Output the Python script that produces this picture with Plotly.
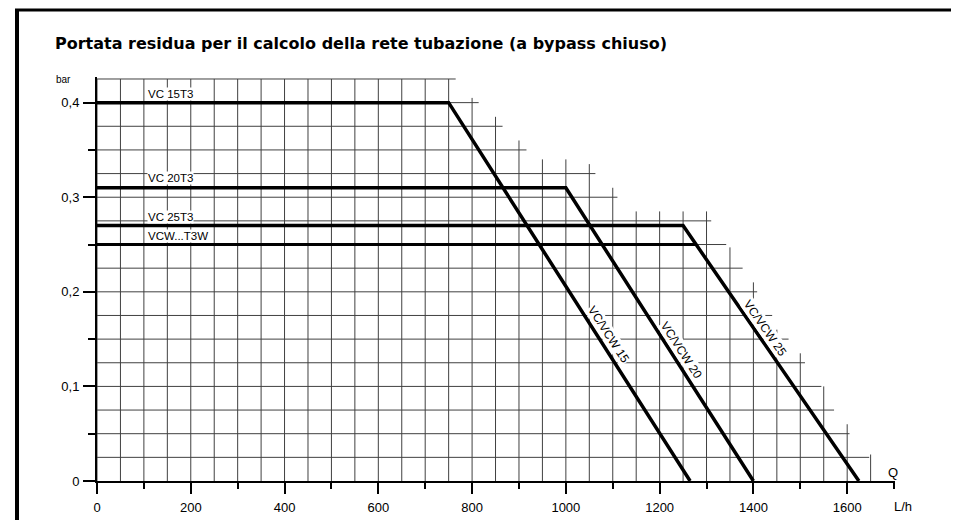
import plotly.graph_objects as go

# ---------------- data ----------------
# residual head curves: flow Q [L/h] vs pressure [bar]
vc15_q = [0, 750, 1265]
vc15_p = [0.40, 0.40, 0.0]
vc20_q = [0, 1000, 1400]
vc20_p = [0.31, 0.31, 0.0]
vc25_q = [0, 1250, 1625]
vc25_p = [0.27, 0.27, 0.0]
vcw_q = [0, 1278]
vcw_p = [0.25, 0.25]

x_tick_vals = [0, 200, 400, 600, 800, 1000, 1200, 1400, 1600]
x_tick_text = ["0", "200", "400", "600", "800", "1000", "1200", "1400", "1600"]
y_tick_vals = [0, 0.1, 0.2, 0.3, 0.4]
y_tick_text = ["0", "0,1", "0,2", "0,3", "0,4"]

# stepped background grid of the printed chart
grid_h_levels = [0.025, 0.05, 0.075, 0.1, 0.125, 0.15, 0.175, 0.2, 0.225,
                 0.25, 0.275, 0.3, 0.325, 0.35, 0.375, 0.4, 0.425]
grid_h_ends = [1647, 1605, 1572, 1545, 1510, 1475, 1440, 1408, 1377,
               1342, 1310, 1110, 1063, 916, 865, 814, 765]
grid_v_pos = [0, 50, 100, 150, 200, 250, 300, 350, 400, 450, 500, 550, 600,
              650, 700, 750, 800, 850, 900, 950, 1000, 1050, 1100, 1150, 1200,
              1250, 1300, 1350, 1400, 1450, 1500, 1550, 1600, 1650]
grid_v_tops = [0.425, 0.425, 0.425, 0.425, 0.425, 0.425, 0.425, 0.425,
               0.425, 0.425, 0.425, 0.425, 0.425, 0.425, 0.425, 0.425,
               0.405, 0.385, 0.36, 0.34, 0.34, 0.335, 0.31, 0.285, 0.285,
               0.285, 0.285, 0.247, 0.21, 0.16, 0.135, 0.1, 0.06, 0.028]

title_text = "Portata residua per il calcolo della rete tubazione (a bypass chiuso)"
FONT = "Liberation Sans, Arial, Helvetica, sans-serif"
TITLE_FONT = "DejaVu Sans, Liberation Sans, sans-serif"

# ---------------- layout geometry ----------------
# the page body has an 8px margin, so the figure is drawn 8px smaller and
# every page-pixel position below is shifted by that offset
OFF = 8
W, H = 959 - OFF, 520 - OFF
L, R, T, B = 97, 895, 77, 481       # plot area in page pixels
X_MAX = 1702
Y_MAX = 0.4271


def pxx(px):
    return (px - L) / (R - L)


def pxy(py):
    return (B - py) / (B - T)


fig = go.Figure()

# grid
gx, gy = [], []
for lev, end in zip(grid_h_levels, grid_h_ends):
    gx += [0, end, None]
    gy += [lev, lev, None]
for pos, top in zip(grid_v_pos, grid_v_tops):
    gx += [pos, pos, None]
    gy += [0, top, None]
fig.add_trace(go.Scatter(x=gx, y=gy, mode="lines",
                         line=dict(color="#404040", width=1),
                         hoverinfo="skip", showlegend=False))

for q, p, w in [(vcw_q, vcw_p, 3), (vc25_q, vc25_p, 3.5),
                (vc20_q, vc20_p, 3.5), (vc15_q, vc15_p, 3.5)]:
    fig.add_trace(go.Scatter(x=q, y=p, mode="lines",
                             line=dict(color="black", width=w),
                             hoverinfo="skip", showlegend=False))

ann = []
# title
ann.append(dict(text="<b>" + title_text + "</b>", xref="paper", yref="paper",
                x=pxx(53), y=pxy(44), xanchor="left", yanchor="middle",
                showarrow=False, font=dict(size=16, family=TITLE_FONT, color="black")))
ann.append(dict(text="bar", xref="paper", yref="paper", x=pxx(63), y=pxy(79),
                xanchor="center", yanchor="middle", showarrow=False,
                font=dict(size=10, family=FONT, color="black")))
ann.append(dict(text="Q", xref="paper", yref="paper", x=pxx(893), y=pxy(472),
                xanchor="center", yanchor="middle", showarrow=False,
                font=dict(size=13, family=FONT, color="black")))
ann.append(dict(text="L/h", xref="paper", yref="paper", x=pxx(903), y=pxy(506),
                xanchor="center", yanchor="middle", showarrow=False,
                font=dict(size=13, family=FONT, color="black")))

# curve names (horizontal)
for txt, yv in [("VC 15T3", 0.409), ("VC 20T3", 0.320),
                ("VC 25T3", 0.279), ("VCW...T3W", 0.259)]:
    ann.append(dict(text=txt, xref="x", yref="y", x=107, y=yv,
                    xanchor="left", yanchor="middle", showarrow=False,
                    bgcolor="white", borderpad=0,
                    font=dict(size=11.5, family=FONT, color="black")))

# curve names (along diagonals)
for txt, xv, yv, ang in [("VC/VCW 15", 1090, 0.155, 57),
                         ("VC/VCW 20", 1246, 0.1385, 57),
                         ("VC/VCW 25", 1425, 0.162, 55)]:
    ann.append(dict(text=txt, xref="x", yref="y", x=xv, y=yv,
                    xanchor="center", yanchor="middle", showarrow=False,
                    textangle=ang, bgcolor="white", borderpad=0,
                    font=dict(size=12, family=FONT, color="black")))

shapes = [
    # page frame (left and top rules of the scanned sheet)
    dict(type="line", xref="paper", yref="paper", x0=pxx(17), x1=pxx(17),
         y0=pxy(9), y1=pxy(525), line=dict(color="black", width=4)),
    dict(type="line", xref="paper", yref="paper", x0=pxx(15), x1=pxx(965),
         y0=pxy(10), y1=pxy(10), line=dict(color="black", width=3)),
]

fig.update_layout(
    template="none",
    width=W, height=H, autosize=False,
    margin=dict(l=L - OFF, r=W - (R - OFF), t=T - OFF, b=H - (B - OFF),
                pad=0, autoexpand=False),
    paper_bgcolor="white", plot_bgcolor="white",
    hovermode=False, showlegend=False,
    annotations=ann, shapes=shapes,
    font=dict(family=FONT, color="black"),
    xaxis=dict(range=[0, X_MAX], showgrid=False, zeroline=False,
               automargin=False,
               showline=True, linecolor="black", linewidth=2,
               ticks="outside", ticklen=11, tickwidth=1.5, tickcolor="black",
               tickvals=x_tick_vals, ticktext=x_tick_text,
               tickfont=dict(size=13, family=FONT, color="black"),
               ticklabelstandoff=2,
               minor=dict(dtick=100, tick0=0, ticks="outside", ticklen=6,
                          tickwidth=1.5, tickcolor="black", showgrid=False),
               fixedrange=True),
    yaxis=dict(range=[0, Y_MAX], showgrid=False, zeroline=False,
               automargin=False,
               showline=True, linecolor="black", linewidth=2,
               ticks="outside", ticklen=12, tickwidth=1.5, tickcolor="black",
               tickvals=y_tick_vals, ticktext=y_tick_text,
               tickfont=dict(size=13, family=FONT, color="black"),
               ticklabelstandoff=1,
               minor=dict(dtick=0.05, tick0=0, ticks="outside", ticklen=7,
                          tickwidth=1.5, tickcolor="black", showgrid=False),
               fixedrange=True),
)

fig.write_html("out.html")
